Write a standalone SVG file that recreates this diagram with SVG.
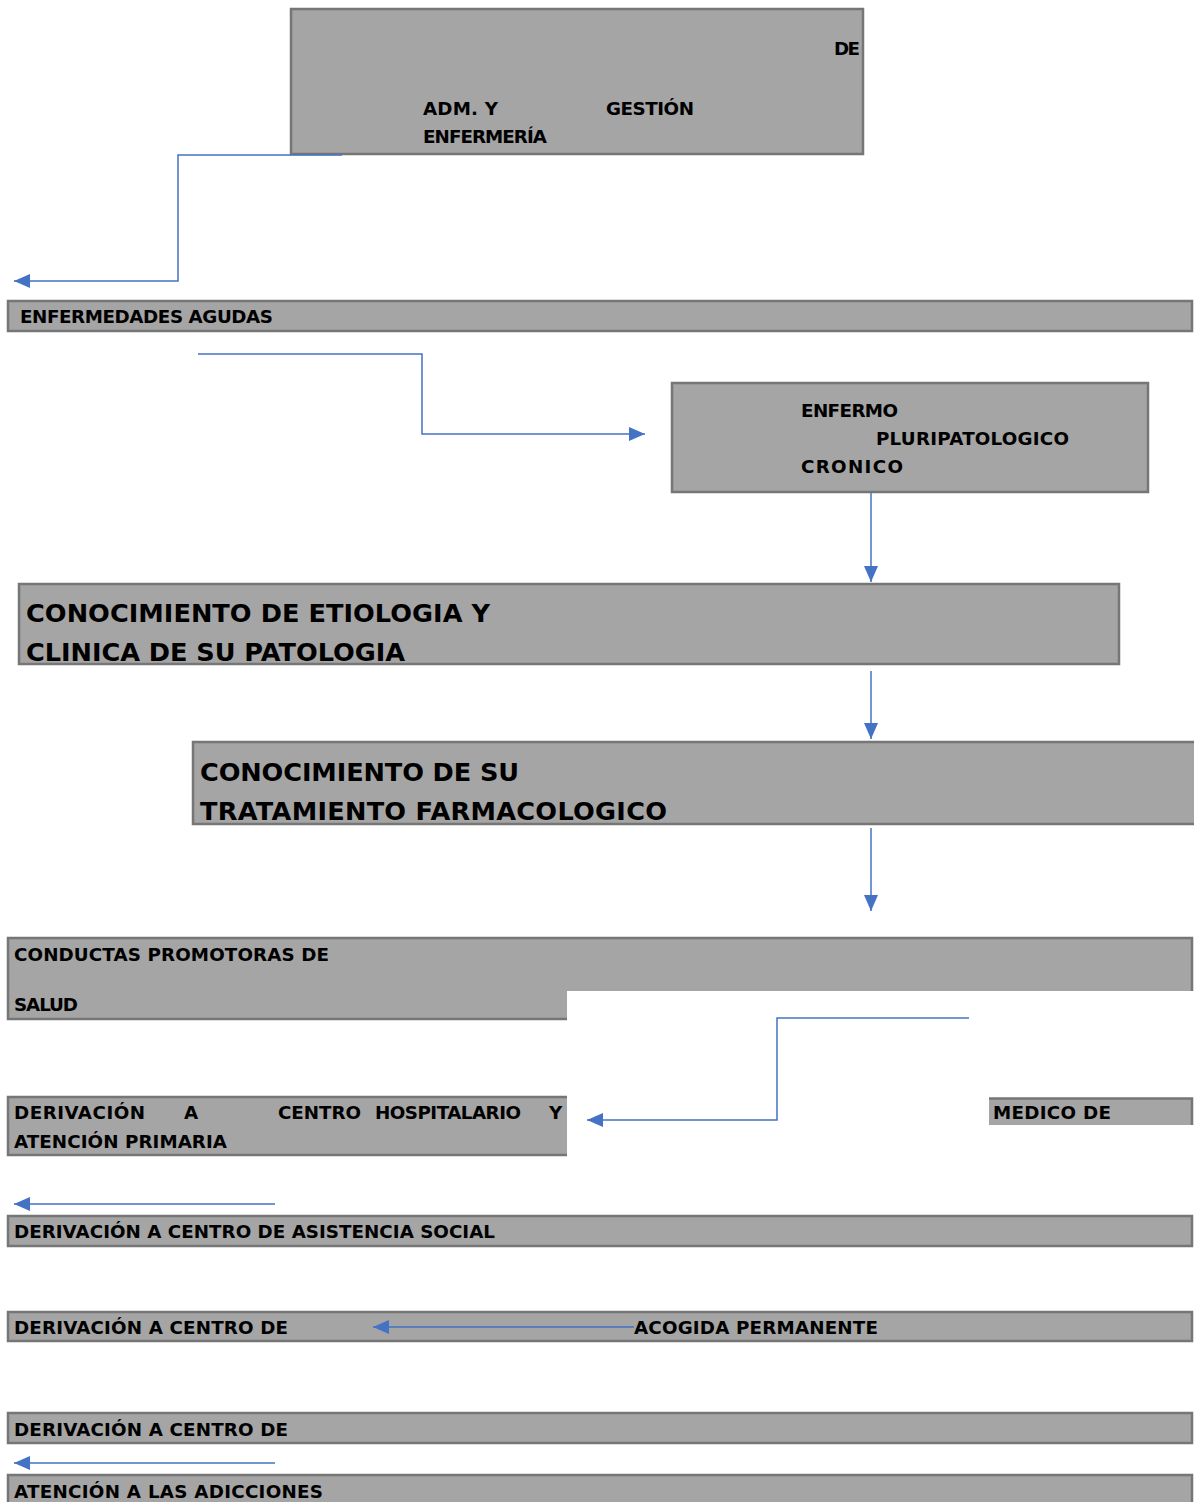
<svg xmlns="http://www.w3.org/2000/svg" width="1194" height="1502" viewBox="0 0 1194 1502">
<style>
.box{fill:#a5a5a5;stroke:#767676;stroke-width:2.5}
.t{font-family:"DejaVu Sans",sans-serif;font-weight:bold;font-size:18.3px;fill:#000}
.big{font-family:"DejaVu Sans",sans-serif;font-weight:bold;font-size:25.6px;fill:#000}
.c{fill:none;stroke:#4472c4;stroke-width:1.5}
</style>
<defs>
<marker id="ah" markerUnits="userSpaceOnUse" markerWidth="18" markerHeight="14" refX="16" refY="7" orient="auto">
<path d="M0,0 L16,7 L0,14 Z" fill="#4472c4"/>
</marker>
</defs>
<rect width="1194" height="1502" fill="#fff"/>

<g id="n-top">
<rect class="box" x="291" y="9" width="572" height="145"/>
<text class="t" x="834" y="55" textLength="26">DE</text>
<text class="t" x="423" y="115" textLength="75">ADM. Y</text>
<text class="t" x="606" y="115" textLength="88">GESTIÓN</text>
<text class="t" x="423" y="143" textLength="124">ENFERMERÍA</text>
</g>

<g id="n-agudas">
<rect class="box" x="8" y="301" width="1184" height="30"/>
<text class="t" x="20" y="323" textLength="253">ENFERMEDADES AGUDAS</text>
</g>

<g id="n-enfermo">
<rect class="box" x="672" y="383" width="476" height="109"/>
<text class="t" x="801" y="417" textLength="97">ENFERMO</text>
<text class="t" x="876" y="445" textLength="193">PLURIPATOLOGICO</text>
<text class="t" x="801" y="473" textLength="102">CRONICO</text>
</g>

<g id="n-etiologia">
<rect class="box" x="19" y="584" width="1100" height="80"/>
<text class="big" x="26" y="622" textLength="464">CONOCIMIENTO DE ETIOLOGIA Y</text>
<text class="big" x="26" y="661" textLength="379">CLINICA DE SU PATOLOGIA</text>
</g>

<g id="n-tratamiento">
<rect class="box" x="193" y="742" width="1010" height="82"/>
<text class="big" x="200" y="781" textLength="319">CONOCIMIENTO DE SU</text>
<text class="big" x="200" y="820" textLength="467">TRATAMIENTO FARMACOLOGICO</text>
</g>

<g id="n-conductas">
<rect class="box" x="8" y="938" width="1184" height="81"/>
<rect x="567" y="991" width="630" height="31" fill="#fff"/>
<text class="t" x="14" y="961" textLength="315">CONDUCTAS PROMOTORAS DE</text>
<text class="t" x="14" y="1011" textLength="64">SALUD</text>
</g>

<g id="n-hospital">
<rect class="box" x="8" y="1097" width="570" height="58"/>
<rect x="567" y="1094" width="14" height="64" fill="#fff"/>
<text class="t" x="14" y="1119" textLength="131">DERIVACIÓN</text>
<text class="t" x="184" y="1119">A</text>
<text class="t" x="278" y="1119" textLength="83">CENTRO</text>
<text class="t" x="375" y="1119" textLength="146">HOSPITALARIO</text>
<text class="t" x="549" y="1119">Y</text>
<text class="t" x="14" y="1148" textLength="213">ATENCIÓN PRIMARIA</text>
</g>

<g id="n-medico">
<rect x="989" y="1098" width="203" height="27" fill="#a5a5a5"/>
<path d="M989,1098.5 H1192 V1125" fill="none" stroke="#767676" stroke-width="2.5"/>
<text class="t" x="993" y="1119" textLength="118">MEDICO DE</text>
</g>

<g id="n-social">
<rect class="box" x="8" y="1216" width="1184" height="30"/>
<text class="t" x="14" y="1238" textLength="481">DERIVACIÓN A CENTRO DE ASISTENCIA SOCIAL</text>
</g>

<g id="n-acogida">
<rect class="box" x="8" y="1312" width="1184" height="29"/>
<text class="t" x="14" y="1334" textLength="274">DERIVACIÓN A CENTRO DE</text>
<text class="t" x="634" y="1334" textLength="244">ACOGIDA PERMANENTE</text>
</g>

<g id="n-centro">
<rect class="box" x="8" y="1413" width="1184" height="30"/>
<text class="t" x="14" y="1436" textLength="274">DERIVACIÓN A CENTRO DE</text>
</g>

<g id="n-adicciones">
<rect class="box" x="8" y="1475" width="1184" height="40"/>
<text class="t" x="14" y="1498" textLength="309">ATENCIÓN A LAS ADICCIONES</text>
</g>

<g id="connectors">
<path class="c" d="M342,155 H178 V281 H14" marker-end="url(#ah)"/>
<path class="c" d="M198,354 H422 V434 H645" marker-end="url(#ah)"/>
<path class="c" d="M871,493 V582" marker-end="url(#ah)"/>
<path class="c" d="M871,671 V739" marker-end="url(#ah)"/>
<path class="c" d="M871,828 V911" marker-end="url(#ah)"/>
<path class="c" d="M969,1018 H777 V1120 H587" marker-end="url(#ah)"/>
<path class="c" d="M275,1204 H14" marker-end="url(#ah)"/>
<path class="c" d="M634,1327 H373" marker-end="url(#ah)"/>
<path class="c" d="M275,1463 H14" marker-end="url(#ah)"/>
</g>
</svg>
